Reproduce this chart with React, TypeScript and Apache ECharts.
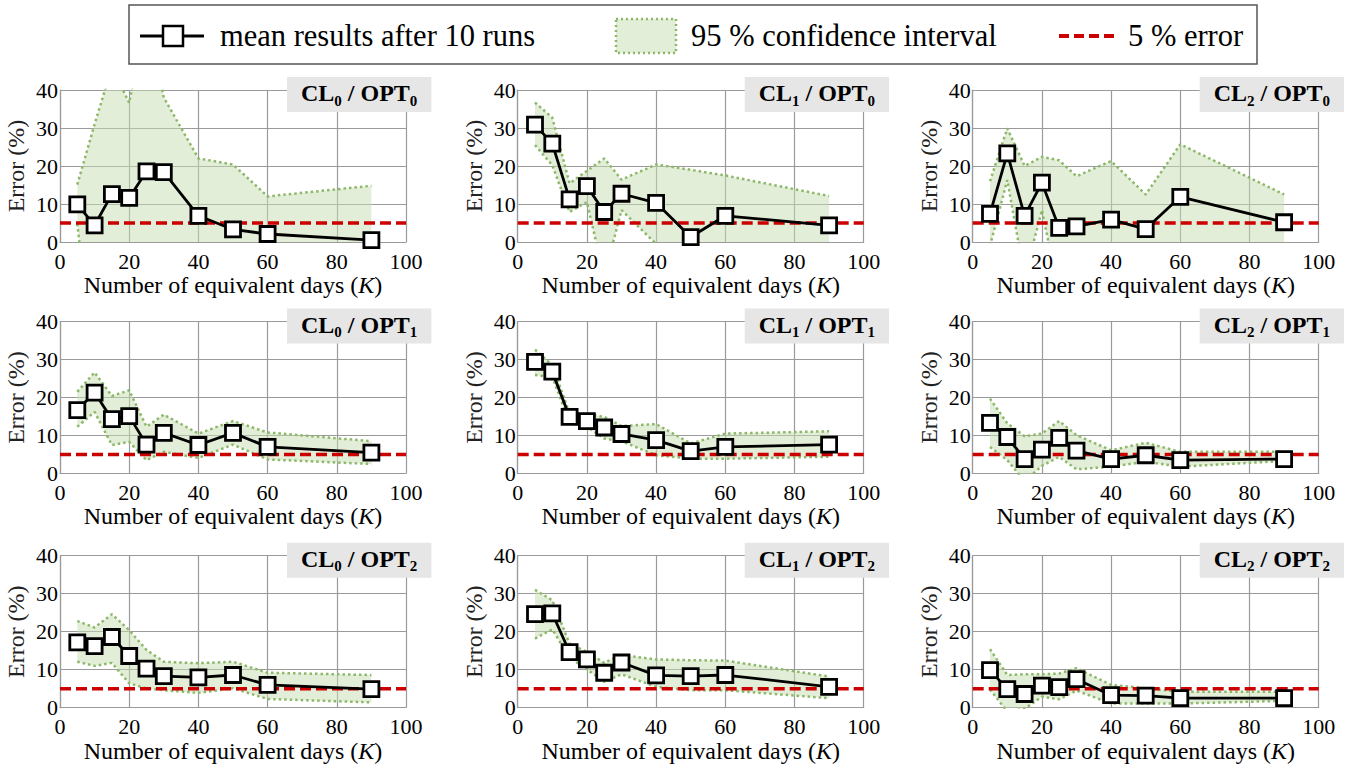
import React, { useEffect, useRef } from "react";
import * as echarts from "echarts";

const FONT = "Liberation Serif";

// x values: number of equivalent days
const days = [5, 10, 15, 20, 25, 30, 40, 50, 60, 90];
const xTicks = [0, 20, 40, 60, 80, 100];
const yTicks = [0, 10, 20, 30, 40];
const errorLevel = 5;

// CL0 / OPT0
const mean_cl0_opt0 = [9.9, 4.4, 12.6, 11.6, 18.6, 18.4, 6.9, 3.3, 2.1, 0.5];
const upper_cl0_opt0 = [15.1, 31, 46, 36.6, 60, 38, 22, 20.4, 12.0, 14.8];
const lower_cl0_opt0 = [4.8, -35, -20, -15, -20, -20, -10, -10, -8, -10];
// CL1 / OPT0
const mean_cl1_opt0 = [30.9, 25.9, 11.2, 14.7, 7.9, 12.7, 10.3, 1.3, 6.9, 4.4];
const upper_cl1_opt0 = [36.7, 32.7, 15.4, 18.7, 22.0, 16.4, 20.4, 19.0, 17.5, 12.1];
const lower_cl1_opt0 = [25.5, 20.2, 7.9, 10.5, -9.2, 8.4, -0.5, -5, -3, -2];
// CL2 / OPT0
const mean_cl2_opt0 = [7.4, 23.3, 6.9, 15.6, 3.7, 4.1, 5.9, 3.4, 11.9, 5.2];
const upper_cl2_opt0 = [16.0, 29.9, 20.0, 22.4, 21.5, 17.3, 21.3, 12.5, 25.7, 12.5];
const lower_cl2_opt0 = [-1, 16.3, -9.2, 8.4, -13.7, -10, -10, -10, -10, -10];
// CL0 / OPT1
const mean_cl0_opt1 = [16.7, 21.3, 14.3, 15.1, 7.6, 10.7, 7.5, 10.7, 7.0, 5.5];
const upper_cl0_opt1 = [21.5, 26.6, 20.4, 21.9, 12.3, 15.5, 10.5, 13.8, 10.8, 8.5];
const lower_cl0_opt1 = [12.3, 16.2, 7.5, 8.3, 3.5, 5.7, 4.1, 7.6, 3.7, 2.5];
// CL1 / OPT1
const mean_cl1_opt1 = [29.4, 26.8, 14.9, 13.8, 12.1, 10.4, 8.8, 5.9, 7.0, 7.6];
const upper_cl1_opt1 = [32.6, 28.5, 15.8, 15.6, 14.9, 12.5, 13.0, 7.9, 10.5, 11.1];
const lower_cl1_opt1 = [25.9, 25.4, 13.3, 12.3, 9.2, 8.5, 4.8, 3.9, 3.9, 4.4];
// CL2 / OPT1
const mean_cl2_opt1 = [13.3, 9.6, 3.8, 6.3, 9.4, 6.0, 3.8, 4.8, 3.5, 3.8];
const upper_cl2_opt1 = [19.7, 13.2, 9.8, 10.5, 13.8, 10.1, 6.1, 8.1, 5.7, 5.7];
const lower_cl2_opt1 = [7.0, 3.5, -2.0, 2.0, 4.4, 1.1, 1.8, 3.1, 1.8, 3.3];
// CL0 / OPT2
const mean_cl0_opt2 = [17.2, 16.2, 18.6, 13.6, 10.3, 8.3, 8.0, 8.6, 6.0, 4.9];
const upper_cl0_opt2 = [22.8, 21.1, 24.6, 20.4, 15.2, 12.1, 11.7, 12.1, 9.2, 8.6];
const lower_cl0_opt2 = [12.1, 11.0, 11.8, 6.4, 5.1, 4.6, 3.9, 5.1, 2.3, 1.4];
// CL1 / OPT2
const mean_cl1_opt2 = [24.6, 24.8, 14.6, 12.7, 9.2, 11.9, 8.5, 8.3, 8.6, 5.5];
const upper_cl1_opt2 = [31.0, 28.3, 16.8, 14.7, 11.8, 13.9, 12.7, 12.5, 12.4, 8.2];
const lower_cl1_opt2 = [18.2, 20.6, 13.2, 10.1, 6.8, 8.8, 5.5, 4.6, 4.6, 2.5];
// CL2 / OPT2
const mean_cl2_opt2 = [9.9, 4.9, 3.6, 5.8, 5.4, 7.5, 3.3, 3.2, 2.5, 2.5];
const upper_cl2_opt2 = [15.4, 8.6, 8.8, 8.8, 9.0, 10.4, 6.0, 5.1, 4.2, 4.2];
const lower_cl2_opt2 = [4.8, -1.0, -0.3, 2.9, 2.2, 4.5, 1.1, 1.1, 1.1, 1.8];

const panels = [
  { cl: 0, opt: 0, mean: mean_cl0_opt0, upper: upper_cl0_opt0, lower: lower_cl0_opt0 },
  { cl: 1, opt: 0, mean: mean_cl1_opt0, upper: upper_cl1_opt0, lower: lower_cl1_opt0 },
  { cl: 2, opt: 0, mean: mean_cl2_opt0, upper: upper_cl2_opt0, lower: lower_cl2_opt0 },
  { cl: 0, opt: 1, mean: mean_cl0_opt1, upper: upper_cl0_opt1, lower: lower_cl0_opt1 },
  { cl: 1, opt: 1, mean: mean_cl1_opt1, upper: upper_cl1_opt1, lower: lower_cl1_opt1 },
  { cl: 2, opt: 1, mean: mean_cl2_opt1, upper: upper_cl2_opt1, lower: lower_cl2_opt1 },
  { cl: 0, opt: 2, mean: mean_cl0_opt2, upper: upper_cl0_opt2, lower: lower_cl0_opt2 },
  { cl: 1, opt: 2, mean: mean_cl1_opt2, upper: upper_cl1_opt2, lower: lower_cl1_opt2 },
  { cl: 2, opt: 2, mean: mean_cl2_opt2, upper: upper_cl2_opt2, lower: lower_cl2_opt2 },
];

const legendLabels = ["mean results after 10 runs", "95 % confidence interval", "5 % error"];

const COLS = [60, 517.7, 972.7];
const ROWS = [90, 321.5, 555.7];
const GW = 346;
const GH = 152;

const GRID_COLOR = "#9a9a9a";
const BAND_FILL = "rgba(200, 222, 178, 0.5)";
const BAND_LINE = "#8db86a";
const RED = "#cc0000";

function buildOption() {
  const grid: any[] = [];
  const xAxis: any[] = [];
  const yAxis: any[] = [];
  const series: any[] = [];
  const title: any[] = [];

  panels.forEach((p, i) => {
    const r = p.opt;
    const c = p.cl;
    grid.push({ left: COLS[c], top: ROWS[r], width: GW, height: GH, containLabel: false });
    xAxis.push({
      type: "value",
      gridIndex: i,
      min: xTicks[0],
      max: xTicks[xTicks.length - 1],
      interval: 20,
      axisLine: { show: true, lineStyle: { color: GRID_COLOR, width: 1.2 } },
      axisTick: { show: false },
      splitLine: { show: true, lineStyle: { color: GRID_COLOR, width: 1.2 } },
      axisLabel: { color: "#000", fontFamily: FONT, fontSize: 22, margin: 8 },
      name: "Number of equivalent days ({i|K})",
      nameLocation: "middle",
      nameGap: 29,
      nameTextStyle: {
        color: "#000",
        fontFamily: FONT,
        fontSize: 24,
        rich: { i: { fontStyle: "italic", fontFamily: FONT, fontSize: 24, color: "#000" } },
      },
    });
    yAxis.push({
      type: "value",
      gridIndex: i,
      min: yTicks[0],
      max: yTicks[yTicks.length - 1],
      interval: 10,
      axisLine: { show: true, lineStyle: { color: GRID_COLOR, width: 1.2 } },
      axisTick: { show: false },
      splitLine: { show: true, lineStyle: { color: GRID_COLOR, width: 1.2 } },
      axisLabel: { color: "#000", fontFamily: FONT, fontSize: 22, margin: 2 },
      name: "Error (%)",
      nameLocation: "middle",
      nameGap: 32,
      nameTextStyle: { color: "#222", fontFamily: FONT, fontSize: 24 },
    });

    const upper = p.upper;
    const lower = p.lower;
    // confidence band fill: polygon through upper bounds then lower bounds
    series.push({
      type: "custom",
      name: legendLabels[1],
      xAxisIndex: i,
      yAxisIndex: i,
      clip: true,
      silent: true,
      z: 1,
      data: days.map((d, k) => [d, lower[k], upper[k]]),
      renderItem: (params: any, api: any) => {
        if (params.dataIndex !== 0) return null;
        const pts: number[][] = [];
        for (let k = 0; k < days.length; k++) pts.push(api.coord([days[k], upper[k]]));
        for (let k = days.length - 1; k >= 0; k--) pts.push(api.coord([days[k], lower[k]]));
        return {
          type: "polygon",
          shape: { points: pts },
          style: { fill: BAND_FILL, stroke: "none" },
        };
      },
    });
    series.push({
      type: "line",
      name: legendLabels[1] + " lower",
      xAxisIndex: i,
      yAxisIndex: i,
      symbol: "none",
      data: days.map((d, k) => [d, lower[k]]),
      lineStyle: { color: BAND_LINE, width: 2.5, type: [2.5, 3] },
      z: 2,
      silent: true,
    });
    series.push({
      type: "line",
      name: legendLabels[1] + " upper",
      xAxisIndex: i,
      yAxisIndex: i,
      symbol: "none",
      data: days.map((d, k) => [d, upper[k]]),
      lineStyle: { color: BAND_LINE, width: 2.5, type: [2.5, 3] },
      z: 2,
      silent: true,
    });
    series.push({
      type: "line",
      name: legendLabels[2],
      xAxisIndex: i,
      yAxisIndex: i,
      symbol: "none",
      data: [
        [xTicks[0], errorLevel],
        [xTicks[xTicks.length - 1], errorLevel],
      ],
      lineStyle: { color: RED, width: 3.5, type: [11, 5] },
      z: 3,
      silent: true,
    });
    series.push({
      type: "line",
      name: legendLabels[0],
      xAxisIndex: i,
      yAxisIndex: i,
      symbol: "rect",
      symbolSize: 15,
      data: days.map((d, k) => [d, p.mean[k]]),
      lineStyle: { color: "#000", width: 2.8 },
      itemStyle: { color: "#fff", borderColor: "#000", borderWidth: 2.8 },
      z: 4,
      silent: true,
    });

    title.push({
      left: COLS[c] + 227,
      top: ROWS[r] - 16,
      text: `{b|CL}{s|${p.cl}}{b| / OPT}{s|${p.opt}}`,
      backgroundColor: "#e6e6e6",
      padding: [4, 14, 4, 14],
      textStyle: {
        rich: {
          b: { fontFamily: FONT, fontSize: 24, fontWeight: "bold", color: "#000", lineHeight: 30 },
          s: {
            fontFamily: FONT,
            fontSize: 15,
            fontWeight: "bold",
            color: "#000",
            lineHeight: 12,
            verticalAlign: "bottom",
          },
        },
      },
    });
  });

  const LY = 36;
  const legendFont = `30.5px ${FONT}`;
  const graphic: any[] = [
    {
      type: "rect",
      shape: { x: 129, y: 5, width: 1128, height: 59 },
      style: { fill: "#fff", stroke: "#555", lineWidth: 1.5 },
      z: 10,
    },
    {
      type: "line",
      shape: { x1: 140, y1: LY, x2: 204, y2: LY },
      style: { stroke: "#000", lineWidth: 3 },
      z: 11,
    },
    {
      type: "rect",
      shape: { x: 163, y: LY - 10, width: 20, height: 20 },
      style: { fill: "#fff", stroke: "#000", lineWidth: 2.5 },
      z: 12,
    },
    {
      type: "text",
      style: { text: legendLabels[0], x: 220, y: LY, verticalAlign: "middle", font: legendFont, fill: "#000" },
      z: 11,
    },
    {
      type: "rect",
      shape: { x: 616, y: 19, width: 60, height: 34 },
      style: { fill: "#e3eed9", stroke: BAND_LINE, lineWidth: 2.5, lineDash: [2, 3] },
      z: 11,
    },
    {
      type: "text",
      style: { text: legendLabels[1], x: 691, y: LY, verticalAlign: "middle", font: legendFont, fill: "#000" },
      z: 11,
    },
    {
      type: "line",
      shape: { x1: 1059, y1: LY, x2: 1118, y2: LY },
      style: { stroke: RED, lineWidth: 4, lineDash: [10, 5] },
      z: 11,
    },
    {
      type: "text",
      style: { text: legendLabels[2], x: 1128, y: LY, verticalAlign: "middle", font: legendFont, fill: "#000" },
      z: 11,
    },
  ];

  return {
    animation: false,
    backgroundColor: "#fff",
    title,
    grid,
    xAxis,
    yAxis,
    series,
    graphic,
  };
}

export default function App() {
  const ref = useRef<HTMLDivElement>(null);
  useEffect(() => {
    if (!ref.current) return;
    const chart = echarts.init(ref.current, null, { renderer: "svg" });
    chart.setOption(buildOption());
    return () => chart.dispose();
  }, []);
  return (
    <div
      ref={ref}
      style={{ position: "absolute", left: 0, top: 0, width: 1359, height: 772 }}
    />
  );
}
